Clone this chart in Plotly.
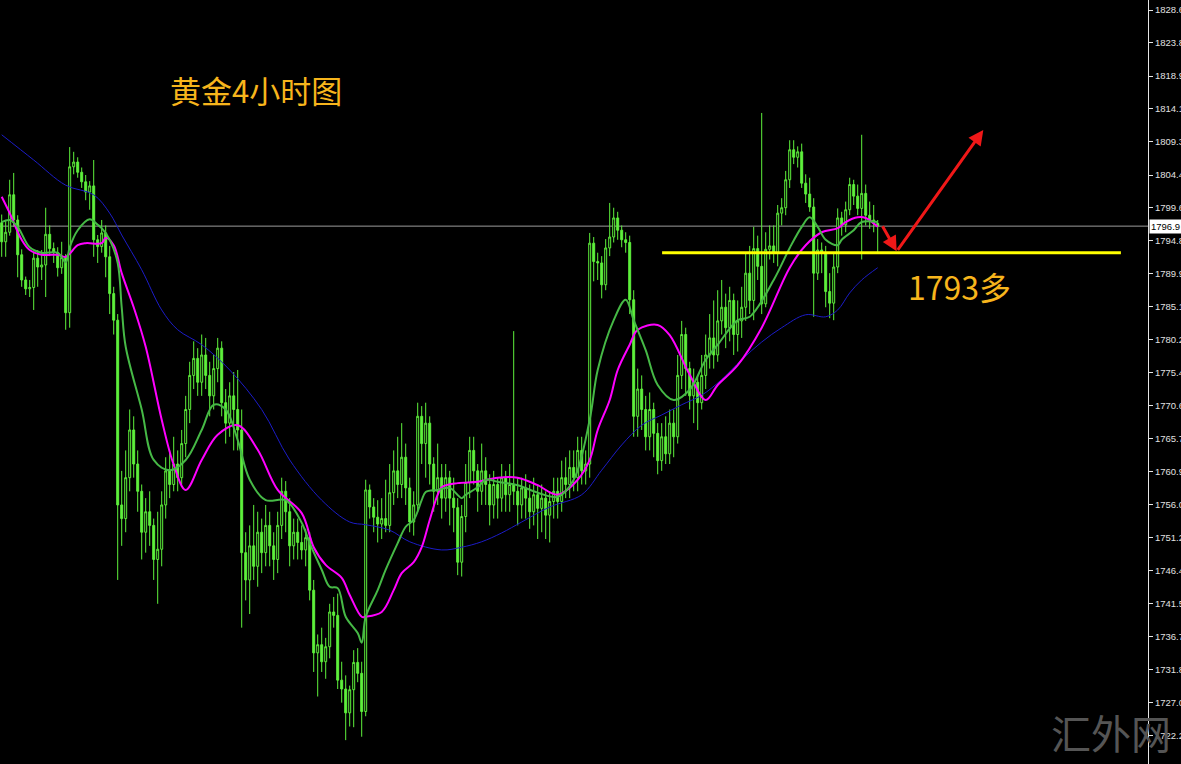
import plotly.graph_objects as go

# 4-hour gold candles, oldest first
OPEN = [
    1797.4, 1794.6, 1796.0, 1801.5, 1797.8, 1792.7, 1789.0, 1787.7, 1787.9, 1792.2,
    1790.9, 1791.2, 1795.7, 1793.6, 1793.0, 1790.8, 1792.3, 1784.2, 1805.6, 1806.3,
    1804.8, 1803.4, 1801.9, 1802.8, 1794.9, 1793.9, 1795.9, 1792.4, 1787.0, 1783.1,
    1756.0, 1754.0, 1760.0, 1767.0, 1762.0, 1758.0, 1752.0, 1755.0, 1753.0, 1748.0,
    1749.5, 1756.0, 1761.0, 1759.0, 1762.0, 1760.0, 1765.0, 1770.0, 1775.0, 1777.5,
    1774.0, 1778.0, 1775.0, 1772.0, 1776.0, 1779.0, 1771.0, 1768.0, 1772.0, 1770.0,
    1767.0, 1749.0, 1745.0, 1750.0, 1747.0, 1752.0, 1749.0, 1753.0, 1750.0, 1748.0,
    1753.0, 1758.0, 1755.0, 1750.0, 1752.0, 1750.5, 1749.4, 1751.2, 1743.5, 1734.3,
    1735.5, 1733.0, 1735.2, 1740.3, 1739.8, 1730.3, 1729.0, 1725.5, 1728.9, 1732.9,
    1731.3, 1725.7, 1758.2, 1755.7, 1754.2, 1753.2, 1754.0, 1753.0, 1757.8, 1761.0,
    1759.0, 1763.0, 1758.5, 1753.5, 1756.0, 1769.0, 1765.0, 1768.0, 1762.0, 1758.0,
    1760.0, 1757.0, 1760.0, 1757.0, 1755.6, 1747.6, 1754.3, 1759.3, 1764.0, 1761.0,
    1758.0, 1761.0, 1759.0, 1756.0, 1759.0, 1757.0, 1760.0, 1757.5, 1759.0, 1758.0,
    1756.0, 1758.5, 1757.0, 1755.0, 1757.5, 1755.5, 1757.0, 1754.5, 1756.5, 1758.0,
    1756.5, 1760.0, 1759.0, 1761.5, 1760.0, 1764.0, 1761.0, 1762.0, 1794.4, 1791.7,
    1791.5, 1788.3, 1793.7, 1795.3, 1798.1, 1796.3, 1794.9, 1794.5, 1786.1, 1769.0,
    1773.0, 1770.0, 1766.0, 1770.0, 1766.5, 1762.5, 1766.0, 1763.5, 1768.0, 1766.0,
    1775.0, 1781.0, 1776.0, 1772.0, 1774.0, 1771.0, 1775.0, 1778.0, 1780.5, 1778.0,
    1783.0, 1785.0, 1782.0, 1786.0, 1781.0, 1783.0, 1785.0, 1790.0, 1786.0, 1793.6,
    1791.0, 1785.5, 1793.5, 1794.0, 1793.0, 1798.8, 1799.6, 1803.7, 1808.1, 1807.0,
    1807.8, 1803.2, 1801.6, 1799.7, 1790.0, 1793.4, 1793.0, 1787.3, 1785.6, 1790.9,
    1798.1, 1797.1, 1799.3, 1803.0, 1801.3, 1799.5, 1801.7, 1798.5, 1797.8, 1797.3,
]
HIGH = [
    1798.6, 1797.8, 1803.7, 1804.7, 1798.5, 1793.5, 1789.5, 1789.0, 1793.0, 1793.4,
    1793.4, 1799.6, 1797.0, 1794.5, 1793.8, 1794.6, 1792.8, 1808.5, 1807.8, 1807.0,
    1805.5, 1804.4, 1803.5, 1806.6, 1795.6, 1797.8, 1797.0, 1794.0, 1788.0, 1784.0,
    1761.0, 1764.0, 1770.0, 1769.0, 1764.0, 1759.0, 1757.0, 1758.0, 1754.0, 1755.0,
    1758.0, 1763.0, 1764.0, 1766.0, 1764.0, 1767.0, 1772.0, 1777.0, 1780.0, 1779.0,
    1781.0, 1780.5, 1777.0, 1778.0, 1780.5, 1780.0, 1773.0, 1774.0, 1775.5, 1775.8,
    1770.0, 1752.0, 1753.0, 1756.0, 1755.0, 1754.0, 1756.0, 1755.0, 1752.0, 1755.0,
    1760.0, 1759.5, 1757.0, 1754.0, 1754.0, 1753.0, 1752.5, 1752.0, 1745.0, 1737.0,
    1738.0, 1736.5, 1741.5, 1742.5, 1743.0, 1733.0, 1731.0, 1729.5, 1734.7, 1735.0,
    1733.0, 1759.7, 1759.0, 1757.0, 1756.7, 1757.0, 1759.7, 1762.0, 1764.0, 1766.0,
    1768.0, 1765.0, 1760.0, 1758.0, 1771.0, 1770.5, 1771.0, 1769.0, 1763.0, 1765.0,
    1762.0, 1762.0, 1761.0, 1760.0, 1757.0, 1756.0, 1762.0, 1766.0, 1766.0, 1762.0,
    1765.0, 1763.0, 1760.5, 1761.0, 1760.0, 1762.0, 1761.0, 1762.0, 1781.5, 1760.0,
    1760.0, 1760.5, 1759.0, 1760.0, 1759.0, 1759.0, 1758.0, 1758.0, 1760.0, 1760.0,
    1762.5, 1763.0, 1764.0, 1764.0, 1766.0, 1766.0, 1764.0, 1795.9, 1795.3, 1793.0,
    1792.5, 1795.0, 1800.3, 1799.6, 1799.0, 1797.0, 1796.0, 1795.5, 1787.5, 1776.0,
    1775.0, 1772.0, 1772.5, 1771.0, 1768.0, 1768.0, 1769.0, 1770.0, 1770.0, 1778.0,
    1783.0, 1782.0, 1777.0, 1776.0, 1775.0, 1778.0, 1781.0, 1784.0, 1786.0, 1787.5,
    1789.0, 1787.0, 1788.0, 1787.0, 1786.0, 1788.0, 1793.0, 1794.0, 1796.8, 1795.5,
    1813.5, 1796.0, 1797.0, 1797.0, 1800.0, 1801.0, 1805.0, 1809.5, 1809.5, 1808.6,
    1809.0, 1804.5, 1804.0, 1801.0, 1795.0, 1794.5, 1794.0, 1790.0, 1793.0, 1799.5,
    1799.0, 1800.5, 1804.0, 1803.7, 1803.0, 1810.3, 1803.0, 1800.5, 1800.0, 1797.8,
]
LOW = [
    1792.4, 1792.4, 1795.5, 1796.8, 1789.4, 1788.0, 1786.8, 1786.5, 1784.6, 1788.0,
    1789.0, 1786.5, 1792.5, 1791.5, 1789.5, 1789.9, 1781.7, 1782.0, 1804.5, 1804.0,
    1802.5, 1800.7, 1799.3, 1792.4, 1791.5, 1793.0, 1789.4, 1784.0, 1781.0, 1745.0,
    1750.0, 1752.0, 1758.0, 1760.0, 1755.0, 1748.0, 1749.0, 1750.0, 1745.0, 1741.5,
    1747.0, 1754.0, 1757.0, 1758.0, 1758.0, 1759.0, 1763.0, 1768.0, 1773.0, 1772.0,
    1772.0, 1773.0, 1769.0, 1770.0, 1774.0, 1769.0, 1765.0, 1766.0, 1764.0, 1764.0,
    1738.0, 1742.0, 1740.0, 1745.0, 1744.0, 1746.0, 1747.0, 1747.0, 1745.0, 1746.0,
    1751.0, 1752.0, 1747.0, 1748.0, 1748.0, 1748.0, 1747.0, 1742.0, 1731.5, 1727.9,
    1731.5, 1730.5, 1733.5, 1738.0, 1729.0, 1727.0, 1721.5, 1723.5, 1723.4, 1730.0,
    1722.0, 1725.0, 1754.0, 1752.0, 1750.5, 1751.0, 1752.0, 1752.0, 1756.0, 1757.0,
    1757.0, 1756.0, 1752.0, 1751.5, 1755.0, 1762.0, 1760.0, 1759.0, 1755.0, 1756.0,
    1754.0, 1755.0, 1753.0, 1752.0, 1745.7, 1745.5, 1752.0, 1757.0, 1759.0, 1755.0,
    1756.0, 1756.0, 1753.0, 1754.0, 1754.0, 1755.0, 1755.0, 1755.0, 1756.0, 1753.0,
    1754.0, 1754.0, 1752.5, 1753.0, 1751.0, 1752.0, 1751.0, 1750.5, 1754.0, 1754.0,
    1755.0, 1757.0, 1757.0, 1758.0, 1758.0, 1759.0, 1759.0, 1760.0, 1788.8, 1789.0,
    1786.3, 1787.5, 1792.5, 1794.5, 1794.9, 1793.8, 1793.0, 1784.0, 1766.0, 1766.0,
    1767.0, 1764.0, 1764.0, 1763.0, 1760.5, 1761.0, 1762.0, 1762.0, 1763.0, 1765.0,
    1773.0, 1772.0, 1770.0, 1768.0, 1767.0, 1770.0, 1773.0, 1776.0, 1776.0, 1777.0,
    1781.0, 1779.0, 1780.0, 1778.0, 1778.5, 1780.5, 1783.0, 1784.0, 1783.1, 1789.0,
    1784.0, 1785.0, 1792.0, 1791.5, 1791.0, 1797.0, 1798.5, 1802.5, 1806.0, 1805.5,
    1802.5, 1800.3, 1799.0, 1783.6, 1789.0, 1790.0, 1785.0, 1783.4, 1783.1, 1790.0,
    1795.5, 1796.0, 1798.5, 1800.0, 1798.5, 1792.0, 1797.0, 1796.5, 1796.0, 1792.9,
]
CLOSE = [
    1794.6, 1796.0, 1801.5, 1797.8, 1792.7, 1789.0, 1787.7, 1787.9, 1792.2, 1790.9,
    1791.2, 1795.7, 1793.6, 1793.0, 1790.8, 1792.3, 1784.2, 1805.6, 1806.3, 1804.8,
    1803.4, 1801.9, 1802.8, 1794.9, 1793.9, 1795.9, 1792.4, 1787.0, 1783.1, 1756.0,
    1754.0, 1760.0, 1767.0, 1762.0, 1758.0, 1752.0, 1755.0, 1753.0, 1748.0, 1749.5,
    1756.0, 1761.0, 1759.0, 1762.0, 1760.0, 1765.0, 1770.0, 1775.0, 1777.5, 1774.0,
    1778.0, 1775.0, 1772.0, 1776.0, 1779.0, 1771.0, 1768.0, 1772.0, 1770.0, 1767.0,
    1749.0, 1745.0, 1750.0, 1747.0, 1752.0, 1749.0, 1753.0, 1750.0, 1748.0, 1753.0,
    1758.0, 1755.0, 1750.0, 1752.0, 1750.5, 1749.4, 1751.2, 1743.5, 1734.3, 1735.5,
    1733.0, 1735.2, 1740.3, 1739.8, 1730.3, 1729.0, 1725.5, 1728.9, 1732.9, 1731.3,
    1725.7, 1758.2, 1755.7, 1754.2, 1753.2, 1754.0, 1753.0, 1757.8, 1761.0, 1759.0,
    1763.0, 1758.5, 1753.5, 1756.0, 1769.0, 1765.0, 1768.0, 1762.0, 1758.0, 1760.0,
    1757.0, 1760.0, 1757.0, 1755.6, 1747.6, 1754.3, 1759.3, 1764.0, 1761.0, 1758.0,
    1761.0, 1759.0, 1756.0, 1759.0, 1757.0, 1760.0, 1757.5, 1759.0, 1758.0, 1756.0,
    1758.5, 1757.0, 1755.0, 1757.5, 1755.5, 1757.0, 1754.5, 1756.5, 1758.0, 1756.5,
    1760.0, 1759.0, 1761.5, 1760.0, 1764.0, 1761.0, 1762.0, 1794.4, 1791.7, 1791.5,
    1788.3, 1793.7, 1795.3, 1798.1, 1796.3, 1794.9, 1794.5, 1786.1, 1769.0, 1773.0,
    1770.0, 1766.0, 1770.0, 1766.5, 1762.5, 1766.0, 1763.5, 1768.0, 1766.0, 1775.0,
    1781.0, 1776.0, 1772.0, 1774.0, 1771.0, 1775.0, 1778.0, 1780.5, 1778.0, 1783.0,
    1785.0, 1782.0, 1786.0, 1781.0, 1783.0, 1785.0, 1790.0, 1786.0, 1793.6, 1791.0,
    1785.5, 1793.5, 1794.0, 1793.0, 1798.8, 1799.6, 1803.7, 1808.1, 1807.0, 1807.8,
    1803.2, 1801.6, 1799.7, 1790.0, 1793.4, 1793.0, 1787.3, 1785.6, 1790.9, 1798.1,
    1797.1, 1799.3, 1803.0, 1801.3, 1799.5, 1801.7, 1798.5, 1797.8, 1797.3, 1796.9,
]
BAR_IDX = list(range(len(OPEN)))

# moving averages, sampled at bar indices
MA_FAST_IDX = [0, 2, 4, 7, 10, 14, 16, 17, 19, 22, 24, 25, 27, 29, 30, 31, 35, 38, 42, 46,
               50, 53, 56, 59, 62, 66, 71, 75, 77, 80, 82, 84, 86, 89, 90, 91, 94, 96, 99, 101,
               103, 105, 106, 109, 112, 115, 116, 119, 121, 124, 129, 134, 139, 143, 147, 149,
               153, 156, 158, 161, 164, 168, 172, 176, 179, 184, 187, 193, 197, 200, 202, 204,
               206, 209, 210, 213, 215, 219]
MA_FAST = [1797.5, 1797.8, 1796.8, 1793.8, 1793.0, 1793.0, 1791.6, 1793.8, 1796.3, 1797.9,
           1797.1, 1796.6, 1794.9, 1791.5, 1785.0, 1779.2, 1770.0, 1762.6, 1761.1, 1762.6,
           1767.0, 1770.7, 1770.0, 1765.5, 1759.7, 1756.7, 1756.7, 1753.4, 1750.4, 1746.5,
           1744.0, 1743.8, 1739.6, 1737.2, 1735.8, 1739.6, 1743.5, 1746.5, 1750.4, 1752.8,
           1753.8, 1756.7, 1757.9, 1758.2, 1758.5, 1757.0, 1757.5, 1758.6, 1759.7, 1759.4,
           1758.9, 1757.8, 1757.2, 1759.7, 1768.5, 1775.8, 1783.1, 1786.1, 1783.1, 1778.7,
           1773.6, 1771.4, 1772.9, 1777.3, 1779.5, 1783.1, 1783.6, 1789.0, 1793.7, 1796.8,
           1798.2, 1796.8, 1794.9, 1794.1, 1794.9, 1796.3, 1797.5, 1797.5]

MA_MID_IDX = [0, 2, 5, 7, 10, 14, 16, 19, 21, 25, 26, 28, 30, 33, 36, 40, 43, 46, 50, 54,
              59, 64, 69, 75, 78, 81, 85, 87, 90, 91, 95, 98, 100, 103, 105, 107, 109, 110,
              114, 119, 124, 129, 134, 139, 144, 147, 149, 152, 154, 157, 159, 164, 167, 172,
              176, 179, 184, 190, 197, 201, 205, 209, 211, 214, 216, 219]
MA_MID = [1801.2, 1798.8, 1794.9, 1793.4, 1792.7, 1792.7, 1792.4, 1794.1, 1794.4, 1794.4,
          1795.2, 1794.1, 1790.0, 1785.0, 1779.2, 1768.5, 1761.9, 1758.2, 1762.6, 1766.3,
          1767.7, 1764.1, 1758.2, 1754.8, 1749.8, 1747.2, 1745.3, 1742.8, 1739.6, 1739.6,
          1740.3, 1743.5, 1746.0, 1747.6, 1749.8, 1753.8, 1757.5, 1758.6, 1759.2, 1759.4,
          1760.0, 1760.0, 1758.9, 1757.5, 1759.7, 1762.6, 1767.0, 1771.4, 1775.8, 1779.5,
          1781.7, 1782.4, 1780.9, 1775.1, 1771.4, 1773.6, 1776.5, 1782.0, 1790.8, 1794.1,
          1796.0, 1796.6, 1797.5, 1798.2, 1798.1, 1796.8]

MA_SLOW_IDX = [0, 8, 16, 23, 27, 30, 35, 40, 44, 50, 57, 65, 72, 80, 87, 91, 97, 102, 110,
               115, 120, 125, 130, 137, 145, 150, 155, 160, 165, 170, 175, 180, 185, 190,
               195, 201, 206, 209, 212, 215, 219]
MA_SLOW = [1810.3, 1806.6, 1802.9, 1801.5, 1798.8, 1795.6, 1790.5, 1784.6, 1781.7, 1779.5,
           1775.8, 1770.0, 1762.6, 1756.7, 1753.5, 1753.1, 1752.3, 1750.6, 1749.4, 1749.8,
           1750.6, 1751.9, 1753.5, 1755.7, 1757.5, 1761.1, 1764.8, 1767.7, 1769.2, 1770.7,
           1772.1, 1774.4, 1777.3, 1779.9, 1782.0, 1783.9, 1783.6, 1784.6, 1787.1, 1789.0,
           1790.8]

PRICE_TICKS = [1828.6, 1823.8, 1818.9, 1814.1, 1809.3, 1804.4, 1799.6, 1794.8, 1789.9,
               1785.1, 1780.2, 1775.4, 1770.6, 1765.7, 1760.9, 1756.0, 1751.2, 1746.4,
               1741.5, 1736.7, 1731.8, 1727.0, 1722.2]
LAST_PRICE = CLOSE[-1]
SUPPORT = 1793.0

CANDLE = "#5ef03c"
TEXT_GOLD = "#f7b51c"

fig = go.Figure()
fig.add_trace(go.Candlestick(
    x=BAR_IDX, open=OPEN, high=HIGH, low=LOW, close=CLOSE,
    increasing={"line": {"color": CANDLE, "width": 1}, "fillcolor": "#000000"},
    decreasing={"line": {"color": CANDLE, "width": 1}, "fillcolor": CANDLE},
    whiskerwidth=0,
    hoverinfo="skip",
))
fig.add_trace(go.Scatter(x=MA_SLOW_IDX, y=MA_SLOW, mode="lines",
                         line={"color": "#1c1cc8", "width": 1, "shape": "spline"}))
fig.add_trace(go.Scatter(x=MA_MID_IDX, y=MA_MID, mode="lines",
                         line={"color": "#ff00ff", "width": 2, "shape": "spline"}))
fig.add_trace(go.Scatter(x=MA_FAST_IDX, y=MA_FAST, mode="lines",
                         line={"color": "#46b946", "width": 2, "shape": "spline"}))

# current price line and support level
fig.add_shape(type="line", xref="paper", x0=0, x1=1, y0=LAST_PRICE, y1=LAST_PRICE,
              line={"color": "#9c9c9c", "width": 1}, layer="below")
fig.add_shape(type="line", x0=165.1, x1=279.8, y0=SUPPORT, y1=SUPPORT,
              line={"color": "#ffff00", "width": 3})

# red path: dip to support, then up
arrow = {"text": "", "showarrow": True, "axref": "x", "ayref": "y",
         "arrowhead": 2, "arrowsize": 1, "arrowwidth": 3, "arrowcolor": "#f01818"}
fig.add_annotation(x=223.75, y=1793.2, ax=220.0, ay=1797.1, **arrow)
fig.add_annotation(x=245.4, y=1811.0, ax=223.75, ay=1793.2, **arrow)

fig.add_annotation(text="黄金4小时图", xref="paper", yref="paper", x=168 / 1148, y=0.8835,
                   xanchor="left", yanchor="middle", showarrow=False,
                   font={"family": "Noto Sans CJK SC", "size": 31, "color": TEXT_GOLD})
fig.add_annotation(text="1793多", xref="paper", yref="paper", x=906 / 1148, y=0.6257,
                   xanchor="left", yanchor="middle", showarrow=False,
                   font={"family": "Noto Sans CJK SC", "size": 32, "color": TEXT_GOLD})
fig.add_annotation(text="汇外网", xref="paper", yref="paper", x=1111 / 1148, y=0.042,
                   xanchor="center", yanchor="middle", showarrow=False,
                   font={"family": "Noto Sans CJK SC", "size": 40, "color": "#555555"})
fig.add_annotation(text=f"{LAST_PRICE:.1f}", xref="paper", yref="y", x=1, y=LAST_PRICE,
                   xanchor="left", yanchor="middle", xshift=1, showarrow=False,
                   bgcolor="#ffffff", borderpad=1,
                   font={"family": "Liberation Sans", "size": 9.5, "color": "#000000"})

fig.update_layout(
    width=1181, height=764,
    margin={"l": 0, "r": 33, "t": 0, "b": 0},
    paper_bgcolor="#000000", plot_bgcolor="#000000",
    showlegend=False,
    xaxis={"range": [-0.425, 286.575], "visible": False, "showgrid": False,
           "rangeslider": {"visible": False}},
    yaxis={"range": [1718.0, 1830.07], "side": "right", "showgrid": False,
           "zeroline": False, "showline": True, "linecolor": "#e6e6e6", "linewidth": 1,
           "ticks": "outside", "ticklen": 4, "tickcolor": "#e6e6e6",
           "tickvals": PRICE_TICKS, "ticktext": [f"{v:.1f}" for v in PRICE_TICKS],
           "tickfont": {"family": "Liberation Sans", "size": 9.5, "color": "#e0e0e0"},
           "automargin": False},
)

# the page's default 8px body margin would offset the chart
fig.write_html("out.html",
               config={"displayModeBar": False},
               post_script="document.body.style.margin='0';"
                           "document.body.style.background='#000';")
